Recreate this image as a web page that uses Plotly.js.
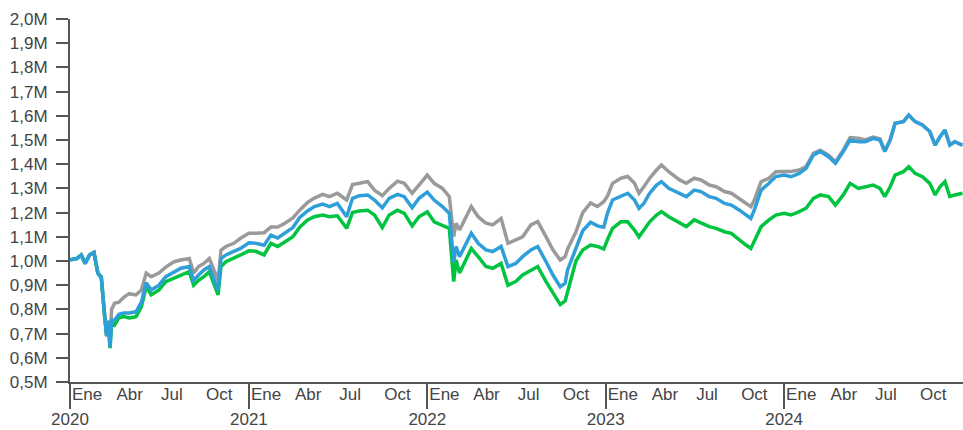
<!DOCTYPE html>
<html>
<head>
<meta charset="utf-8">
<script src="https://cdn.plot.ly/plotly-3.0.1.min.js"></script>
<style>html,body{margin:0;padding:0;background:#fff;}#chart{width:963px;height:430px;}</style>
</head>
<body>
<div id="chart"></div>
<script>
// Dates of sampled points
var dates = [
"2020-01-01","2020-01-15","2020-01-24","2020-02-01","2020-02-10","2020-02-19","2020-02-27","2020-03-05","2020-03-12","2020-03-16","2020-03-19","2020-03-23","2020-03-26","2020-04-01","2020-04-10","2020-04-20","2020-05-01","2020-05-15","2020-05-26","2020-06-05","2020-06-15","2020-07-01","2020-07-15","2020-08-01","2020-08-15","2020-09-01","2020-09-10","2020-09-20","2020-10-01","2020-10-12","2020-10-30","2020-11-05","2020-11-15","2020-12-01","2020-12-15",
"2021-01-01","2021-01-15","2021-02-01","2021-02-15","2021-03-01","2021-03-15","2021-04-01","2021-04-15","2021-05-01","2021-05-15","2021-06-01","2021-06-15","2021-07-01","2021-07-20","2021-08-01","2021-08-15","2021-09-01","2021-09-15","2021-10-01","2021-10-15","2021-11-01","2021-11-15","2021-12-01","2021-12-15",
"2022-01-01","2022-01-15","2022-02-01","2022-02-15","2022-02-24","2022-03-01","2022-03-08","2022-04-01","2022-04-15","2022-05-01","2022-05-15","2022-06-01","2022-06-15","2022-07-01","2022-07-15","2022-08-01","2022-08-15","2022-09-01","2022-09-15","2022-09-30","2022-10-10","2022-10-15","2022-11-01","2022-11-15","2022-12-01","2022-12-15","2022-12-28",
"2023-01-05","2023-01-15","2023-02-01","2023-02-15","2023-03-01","2023-03-10","2023-03-20","2023-04-01","2023-04-15","2023-04-25","2023-05-10","2023-06-01","2023-06-15","2023-07-01","2023-07-15","2023-08-01","2023-08-15","2023-09-01","2023-09-15","2023-10-01","2023-10-15","2023-10-25","2023-11-01","2023-11-15","2023-12-01","2023-12-15",
"2024-01-01","2024-01-15","2024-02-01","2024-02-15","2024-03-01","2024-03-15","2024-04-01","2024-04-15","2024-05-01","2024-05-15","2024-06-01","2024-06-15","2024-07-01","2024-07-15","2024-07-25","2024-08-05","2024-08-15","2024-09-01","2024-09-12","2024-09-25","2024-10-10","2024-10-25","2024-11-05","2024-11-15","2024-11-25","2024-12-05","2024-12-15","2024-12-31"
];

// Portfolio values in millions
var grisValues = [
1.005,1.01,1.025,0.99,1.025,1.035,0.95,0.935,0.77,0.69,0.755,0.66,0.80,0.825,0.83,0.85,0.865,0.86,0.88,0.95,0.935,0.95,0.975,0.997,1.004,1.01,0.95,0.977,0.99,1.01,0.92,1.045,1.06,1.073,1.094,
1.115,1.115,1.117,1.14,1.14,1.155,1.178,1.21,1.242,1.26,1.275,1.266,1.28,1.252,1.316,1.321,1.328,1.293,1.27,1.30,1.33,1.321,1.28,1.314,
1.355,1.321,1.30,1.266,1.10,1.156,1.128,1.225,1.183,1.156,1.149,1.176,1.073,1.087,1.10,1.149,1.163,1.10,1.046,1.004,1.018,1.05,1.12,1.20,1.24,1.225,1.245,
1.27,1.321,1.342,1.349,1.321,1.28,1.307,1.342,1.376,1.397,1.369,1.335,1.321,1.342,1.335,1.314,1.307,1.287,1.28,1.259,1.238,1.224,1.252,1.328,1.342,1.369,
1.37,1.37,1.376,1.39,1.445,1.458,1.437,1.41,1.458,1.51,1.507,1.50,1.512,1.505,1.455,1.50,1.569,1.576,1.603,1.576,1.562,1.535,1.479,1.514,1.541,1.479,1.493,1.479
];
var azulValues = [
1.005,1.01,1.025,0.99,1.025,1.035,0.95,0.935,0.77,0.69,0.75,0.645,0.755,0.755,0.78,0.785,0.785,0.79,0.83,0.91,0.88,0.90,0.935,0.956,0.97,0.977,0.92,0.942,0.963,0.977,0.88,1.01,1.025,1.04,1.052,
1.075,1.073,1.065,1.107,1.095,1.114,1.138,1.18,1.207,1.225,1.235,1.225,1.238,1.183,1.259,1.27,1.273,1.252,1.22,1.259,1.275,1.266,1.22,1.259,
1.285,1.252,1.225,1.197,0.995,1.06,1.018,1.115,1.073,1.046,1.039,1.06,0.977,0.99,1.018,1.046,1.06,0.997,0.942,0.894,0.908,0.963,1.05,1.125,1.16,1.145,1.14,
1.20,1.252,1.266,1.28,1.252,1.218,1.238,1.28,1.314,1.328,1.30,1.28,1.266,1.293,1.287,1.266,1.259,1.238,1.231,1.211,1.19,1.176,1.211,1.293,1.321,1.349,
1.355,1.348,1.362,1.383,1.438,1.452,1.431,1.404,1.452,1.50,1.493,1.493,1.507,1.50,1.452,1.50,1.569,1.576,1.603,1.576,1.562,1.535,1.479,1.514,1.541,1.479,1.493,1.479
];
var verdeValues = [
1.005,1.01,1.025,0.99,1.025,1.035,0.95,0.93,0.77,0.69,0.75,0.64,0.745,0.735,0.765,0.77,0.765,0.77,0.81,0.895,0.86,0.88,0.915,0.93,0.942,0.956,0.90,0.92,0.935,0.956,0.86,0.977,0.997,1.01,1.025,
1.042,1.04,1.025,1.073,1.06,1.08,1.10,1.14,1.17,1.183,1.19,1.183,1.187,1.135,1.20,1.207,1.21,1.19,1.138,1.19,1.21,1.197,1.145,1.183,
1.203,1.162,1.149,1.135,0.915,1.004,0.95,1.052,1.018,0.977,0.97,0.99,0.90,0.915,0.942,0.963,0.977,0.915,0.866,0.82,0.835,0.87,1.00,1.045,1.066,1.06,1.05,
1.09,1.135,1.162,1.162,1.128,1.10,1.128,1.162,1.19,1.204,1.183,1.156,1.142,1.17,1.156,1.142,1.135,1.121,1.114,1.087,1.066,1.052,1.08,1.142,1.17,1.19,
1.197,1.19,1.204,1.218,1.259,1.273,1.266,1.231,1.273,1.321,1.30,1.307,1.314,1.30,1.266,1.307,1.355,1.369,1.39,1.362,1.348,1.321,1.273,1.307,1.328,1.266,1.273,1.28
];

// Axis ticks
var yTickVals = [0.5,0.6,0.7,0.8,0.9,1.0,1.1,1.2,1.3,1.4,1.5,1.6,1.7,1.8,1.9,2.0];
var yTickText = ["0,5M","0,6M","0,7M","0,8M","0,9M","1,0M","1,1M","1,2M","1,3M","1,4M","1,5M","1,6M","1,7M","1,8M","1,9M","2,0M"];
var yearTickVals = ["2020-01-01","2021-01-01","2022-01-01","2023-01-01","2024-01-01"];
var yearTickText = ["2020","2021","2022","2023","2024"];
var monthTickVals = [];
var monthTickText = [];
var monthNames = ["Ene","Abr","Jul","Oct"];
var monthNums = ["01","04","07","10"];
["2020","2021","2022","2023","2024"].forEach(function(yr){
  monthNums.forEach(function(m,i){ monthTickVals.push(yr+"-"+m+"-01"); monthTickText.push(monthNames[i]); });
});

var font = {family: "Liberation Sans, Arial, sans-serif", size: 17, color: "#444"};
var axisColor = "#555";
var xRange = ["2020-01-01","2025-01-01"];

var traces = [
  {x: dates, y: grisValues, mode: "lines", line: {color: "#9a9a9a", width: 3.5}, hoverinfo: "skip"},
  {x: dates, y: verdeValues, mode: "lines", line: {color: "#00c340", width: 3.5}, hoverinfo: "skip"},
  {x: dates, y: azulValues, mode: "lines", line: {color: "#2f9fd9", width: 3.5}, hoverinfo: "skip"},
  {x: [dates[0]], y: [null], xaxis: "x2", mode: "lines", hoverinfo: "skip", showlegend: false}
];

var layout = {
  width: 963, height: 430,
  margin: {l: 70, r: 0, t: 19, b: 48},
  showlegend: false,
  paper_bgcolor: "#fff", plot_bgcolor: "#fff",
  font: font,
  xaxis: {
    type: "date", range: xRange, fixedrange: true,
    showgrid: false, zeroline: false,
    showline: true, linecolor: axisColor, linewidth: 2,
    tickmode: "array", tickvals: yearTickVals, ticktext: yearTickText,
    ticks: "outside", ticklen: 25, tickwidth: 2, tickcolor: axisColor,
    ticklabelstandoff: -4,
    tickfont: font
  },
  xaxis2: {
    type: "date", range: xRange, overlaying: "x", anchor: "y", side: "bottom",
    fixedrange: true, showgrid: false, zeroline: false, showline: false,
    tickmode: "array", tickvals: monthTickVals, ticktext: monthTickText,
    ticks: "", ticklabelposition: "outside right", ticklabelshift: 2,
    tickfont: font
  },
  yaxis: {
    range: [0.5, 2.0], fixedrange: true,
    showgrid: false, zeroline: false,
    showline: true, linecolor: axisColor, linewidth: 2,
    tickmode: "array", tickvals: yTickVals, ticktext: yTickText,
    ticks: "outside", ticklen: 12, tickwidth: 2, tickcolor: axisColor,
    ticklabelstandoff: 5,
    tickfont: font
  }
};

Plotly.newPlot("chart", traces, layout, {displayModeBar: false, staticPlot: true});
</script>
</body>
</html>
